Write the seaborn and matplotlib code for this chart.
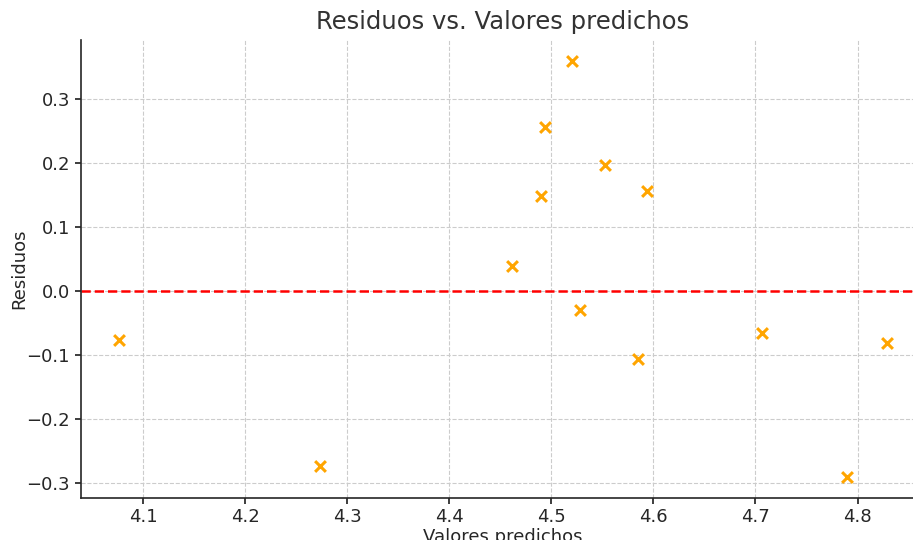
import matplotlib
matplotlib.use("Agg")
import matplotlib.pyplot as plt
import seaborn as sns
import pandas as pd

predichos = [4.076, 4.273, 4.461, 4.490, 4.494, 4.520, 4.528, 4.552, 4.585, 4.594, 4.706, 4.790, 4.829]
residuos = [-0.077, -0.273, 0.039, 0.148, 0.255, 0.359, -0.030, 0.197, -0.106, 0.156, -0.066, -0.291, -0.081]

df = pd.DataFrame({"Valores predichos": predichos, "Residuos": residuos})

sns.set_theme(style="ticks")
plt.rcParams['font.family'] = ['DejaVu Sans']
plt.rcParams['text.color'] = '#262626'
plt.rcParams['axes.labelcolor'] = '#262626'
plt.rcParams['xtick.color'] = '#262626'
plt.rcParams['ytick.color'] = '#262626'

fig = plt.figure(figsize=(9.13, 5.40), dpi=100)
ax = fig.add_axes([80.5/913, 42/540, 845/913, 458/540])

sns.scatterplot(data=df, x="Valores predichos", y="Residuos", marker="x",
                color="#FFA500", s=60, linewidth=2.2, ax=ax, zorder=3)
ax.axhline(0, color="red", linestyle="--", linewidth=1.8, zorder=2)

ax.grid(True, linestyle="--", color="#cccccc", linewidth=0.8)
ax.set_axisbelow(True)
ax.set_xticks([4.1, 4.2, 4.3, 4.4, 4.5, 4.6, 4.7, 4.8])
ax.set_yticks([-0.3, -0.2, -0.1, 0.0, 0.1, 0.2, 0.3])
ax.tick_params(labelsize=13, length=4)
ax.set_xlabel("Valores predichos", fontsize=13, labelpad=1)
ax.set_ylabel("Residuos", fontsize=13, labelpad=-1)
ax.set_title("Residuos vs. Valores predichos", fontsize=17.5, pad=8, color="#333333")
sns.despine(ax=ax)
for s in ["left", "bottom"]:
    ax.spines[s].set_color("#262626")
    ax.spines[s].set_linewidth(1.2)

fig.savefig("out.png", dpi=100)
